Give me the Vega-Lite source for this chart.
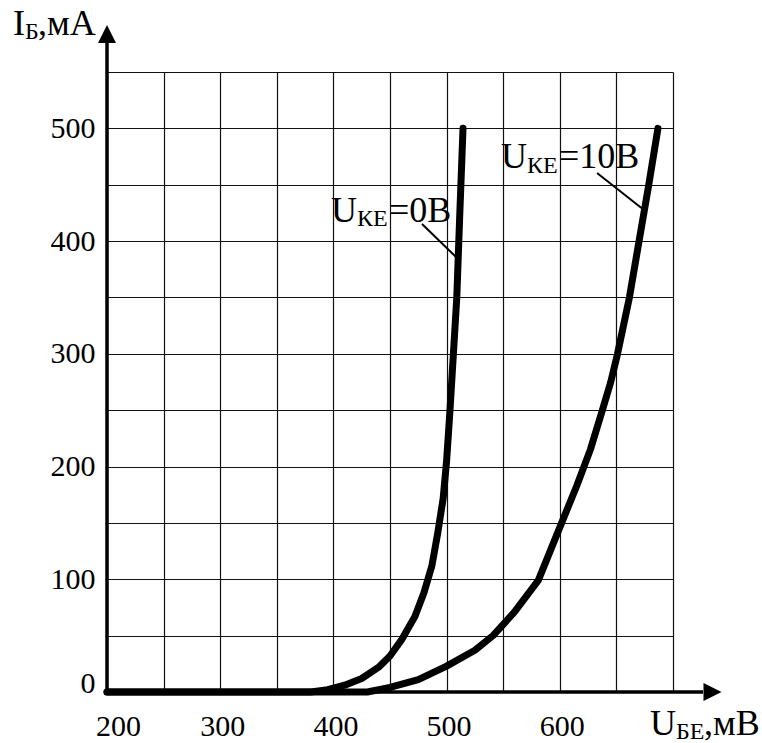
{
  "$schema": "https://vega.github.io/schema/vega-lite/v6.json",
  "width": 566,
  "height": 620,
  "autosize": {"type": "none"},
  "padding": {"left": 107, "top": 72, "right": 89, "bottom": 51},
  "background": "white",
  "config": {
    "view": {"stroke": null},
    "font": "Liberation Serif",
    "axis": {"labelFont": "Liberation Serif", "titleFont": "Liberation Serif"},
    "text": {"font": "Liberation Serif"}
  },
  "datasets": {
    "curves": [
      {"curve": "0", "mV": 200, "mA": 0}, {"curve": "0", "mV": 380, "mA": 0},
      {"curve": "0", "mV": 395, "mA": 2}, {"curve": "0", "mV": 410, "mA": 6},
      {"curve": "0", "mV": 425, "mA": 12}, {"curve": "0", "mV": 440, "mA": 22},
      {"curve": "0", "mV": 450, "mA": 32}, {"curve": "0", "mV": 460, "mA": 46},
      {"curve": "0", "mV": 472, "mA": 67}, {"curve": "0", "mV": 480, "mA": 88},
      {"curve": "0", "mV": 487, "mA": 112}, {"curve": "0", "mV": 492, "mA": 140},
      {"curve": "0", "mV": 497, "mA": 172}, {"curve": "0", "mV": 500, "mA": 205},
      {"curve": "0", "mV": 503, "mA": 250}, {"curve": "0", "mV": 506, "mA": 300},
      {"curve": "0", "mV": 509, "mA": 350}, {"curve": "0", "mV": 511.5, "mA": 420},
      {"curve": "0", "mV": 514.5, "mA": 500},
      {"curve": "10", "mV": 200, "mA": 0}, {"curve": "10", "mV": 430, "mA": 0},
      {"curve": "10", "mV": 450, "mA": 4}, {"curve": "10", "mV": 475, "mA": 11},
      {"curve": "10", "mV": 500, "mA": 23}, {"curve": "10", "mV": 525, "mA": 37},
      {"curve": "10", "mV": 541, "mA": 50}, {"curve": "10", "mV": 560, "mA": 71},
      {"curve": "10", "mV": 581, "mA": 99}, {"curve": "10", "mV": 600, "mA": 146},
      {"curve": "10", "mV": 615, "mA": 183}, {"curve": "10", "mV": 627, "mA": 215},
      {"curve": "10", "mV": 637, "mA": 248}, {"curve": "10", "mV": 645, "mA": 275},
      {"curve": "10", "mV": 651, "mA": 300}, {"curve": "10", "mV": 661.5, "mA": 350},
      {"curve": "10", "mV": 670, "mA": 400}, {"curve": "10", "mV": 678.6, "mA": 450},
      {"curve": "10", "mV": 686.7, "mA": 500}
    ],
    "axisLines": [
      {"mV": 200, "mA": 0, "mV2": 200, "mA2": 576},
      {"mV": 200, "mA": 0, "mV2": 726.5, "mA2": 0}
    ],
    "arrows": [
      {"dir": "up", "mV": 200, "mA": 583.7},
      {"dir": "right", "mV": 734.9, "mA": 0}
    ],
    "leaders": [
      {"mV": 478.3, "mA": 415.2, "mV2": 508.3, "mA2": 385.9},
      {"mV": 632.9, "mA": 460.4, "mV2": 674.4, "mA2": 427.6}
    ],
    "texts": [
      {"part": "main", "txt": "I", "mV": 117, "mA": 582.8},
      {"part": "sub", "txt": "Б", "mV": 127.6, "mA": 579.3},
      {"part": "main", "txt": ",мА", "mV": 139.1, "mA": 582.8},
      {"part": "main", "txt": "U", "mV": 679.7, "mA": -38.2},
      {"part": "sub", "txt": "БЕ", "mV": 702.7, "mA": -41.8},
      {"part": "main", "txt": ",мВ", "mV": 727.4, "mA": -38.2},
      {"part": "main", "txt": "U", "mV": 397.9, "mA": 416.9},
      {"part": "sub", "txt": "КЕ", "mV": 420.8, "mA": 413.4},
      {"part": "main", "txt": "=0В", "mV": 449.1, "mA": 416.9},
      {"part": "main", "txt": "U", "mV": 548.1, "mA": 464.8},
      {"part": "sub", "txt": "КЕ", "mV": 571.0, "mA": 460.4},
      {"part": "main", "txt": "=10В", "mV": 599.3, "mA": 464.8}
    ]
  },
  "encoding": {
    "x": {
      "field": "mV",
      "type": "quantitative",
      "scale": {"domain": [200, 700], "nice": false, "zero": false},
      "axis": {
        "title": null,
        "values": [200, 250, 300, 350, 400, 450, 500, 550, 600, 650, 700],
        "grid": true,
        "gridColor": "#111111",
        "gridWidth": 1.2,
        "domain": false,
        "ticks": false,
        "tickSize": 0,
        "labelExpr": "datum.value % 100 === 0 && datum.value <= 600 ? datum.label : ''",
        "labelFont": "Liberation Serif",
        "labelFontSize": 30,
        "labelColor": "black",
        "labelBaseline": "alphabetic",
        "labelPadding": 43,
        "labelFlush": false,
        "labelOverlap": false,
        "labelBound": false,
        "labelOffset": {"condition": {"test": "datum.value === 200", "value": 11}, "value": 2}
      }
    },
    "y": {
      "field": "mA",
      "type": "quantitative",
      "scale": {"domain": [0, 550], "nice": false, "zero": false},
      "axis": {
        "title": null,
        "values": [0, 50, 100, 150, 200, 250, 300, 350, 400, 450, 500, 550],
        "grid": true,
        "gridColor": "#111111",
        "gridWidth": 1.2,
        "domain": false,
        "ticks": false,
        "tickSize": 0,
        "labelExpr": "datum.value % 100 === 0 && datum.value <= 500 ? datum.label : ''",
        "labelFont": "Liberation Serif",
        "labelFontSize": 30,
        "labelColor": "black",
        "labelBaseline": "middle",
        "labelPadding": 12,
        "labelFlush": false,
        "labelOverlap": false,
        "labelBound": false,
        "labelOffset": {"condition": {"test": "datum.value === 0", "value": -9}, "value": 0}
      }
    }
  },
  "layer": [
    {
      "data": {"name": "axisLines"},
      "mark": {"type": "rule", "color": "black", "strokeWidth": 3.5},
      "encoding": {"x2": {"field": "mV2"}, "y2": {"field": "mA2"}}
    },
    {
      "data": {"name": "arrows"},
      "mark": {"type": "point", "filled": true, "color": "black", "opacity": 1, "size": 324, "strokeWidth": 0},
      "encoding": {
        "shape": {
          "field": "dir",
          "type": "nominal",
          "scale": {"domain": ["up", "right"], "range": ["M0,-1L1,1L-1,1Z", "M1,0L-1,-1L-1,1Z"]},
          "legend": null
        }
      }
    },
    {
      "data": {"name": "curves"},
      "mark": {"type": "line", "color": "black", "strokeWidth": 7, "strokeCap": "round", "strokeJoin": "round"},
      "encoding": {"detail": {"field": "curve", "type": "nominal"}}
    },
    {
      "data": {"name": "leaders"},
      "mark": {"type": "rule", "color": "black", "strokeWidth": 2},
      "encoding": {"x2": {"field": "mV2"}, "y2": {"field": "mA2"}}
    },
    {
      "data": {"name": "texts"},
      "transform": [{"filter": "datum.part === 'main'"}],
      "mark": {"type": "text", "font": "Liberation Serif", "fontSize": 36, "align": "left", "baseline": "alphabetic", "color": "black"},
      "encoding": {"text": {"field": "txt"}}
    },
    {
      "data": {"name": "texts"},
      "transform": [{"filter": "datum.part === 'sub'"}],
      "mark": {"type": "text", "font": "Liberation Serif", "fontSize": 24, "align": "left", "baseline": "alphabetic", "color": "black"},
      "encoding": {"text": {"field": "txt"}}
    }
  ]
}
